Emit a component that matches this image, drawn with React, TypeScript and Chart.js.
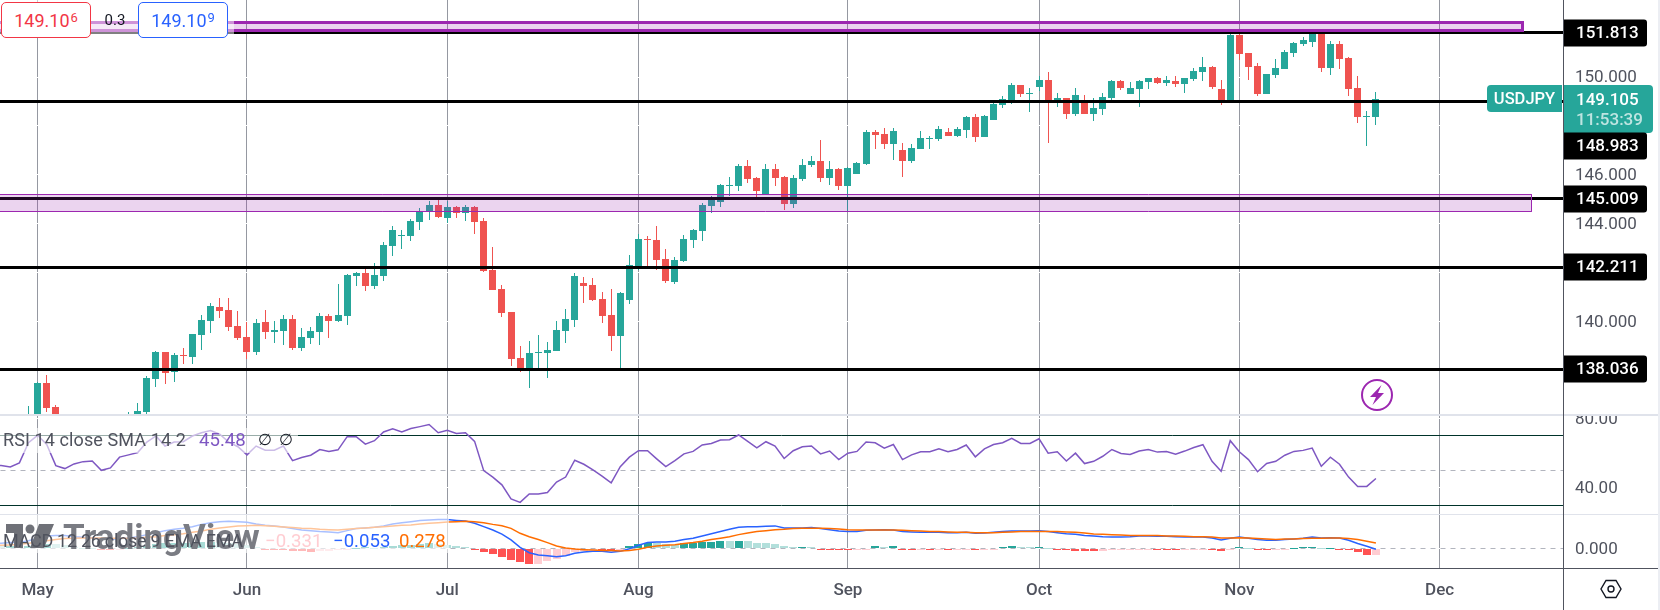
import { useEffect, useRef } from "react";
import { Chart, registerables } from "chart.js";

Chart.register(...registerables);

const UP = "#26a69a";
const DOWN = "#ef5350";
const AXIS_TEXT = "#50535e";
const FONT = "Roboto, sans-serif";

const opens = [
  133.80,134.20,134.10,133.70,133.90,136.20,137.48,136.49,135.80,134.30,
  134.80,135.10,134.50,134.90,135.60,135.70,136.10,136.30,137.64,138.74,
  137.94,138.62,138.54,139.44,140.01,140.59,140.46,139.81,139.36,138.74,
  139.97,139.56,139.60,140.09,138.91,139.32,139.56,140.22,140.01,140.22,
  141.85,141.98,141.45,141.85,143.08,143.49,143.49,144.07,144.47,144.76,
  144.23,144.68,144.43,144.68,144.11,142.10,141.32,140.38,138.50,138.06,
  138.70,138.70,138.78,139.60,140.05,141.57,141.49,140.91,140.26,139.40,
  140.87,142.26,143.37,143.33,142.55,141.61,142.47,143.33,143.70,144.72,
  144.88,145.54,145.54,146.36,145.87,145.17,146.23,145.91,144.80,145.82,
  146.40,146.56,145.87,146.23,145.54,146.03,146.44,147.75,147.67,147.26,
  147.01,146.56,147.05,147.46,147.46,147.75,147.58,147.83,148.36,147.54,
  148.24,148.85,149.06,149.67,149.30,149.59,149.88,149.06,149.14,148.49,
  149.06,148.49,148.69,149.14,149.84,149.30,149.51,149.80,149.96,149.75,
  149.84,149.71,149.92,150.20,150.41,149.51,149.06,151.72,150.98,150.45,
  149.30,150.08,150.33,150.98,151.35,151.43,151.79,150.37,151.35,150.78,
  149.55,148.36,148.36,
];
const highs = [
  134.40,134.60,134.50,134.10,136.54,137.52,137.80,136.57,135.90,135.10,
  135.50,135.40,135.20,135.70,135.80,136.30,136.65,137.77,138.78,138.76,
  138.70,138.91,139.48,140.26,140.75,140.95,140.95,140.42,139.97,140.09,
  140.46,140.01,140.26,140.26,139.73,139.77,140.34,140.30,141.53,141.94,
  142.02,142.14,142.39,143.25,143.90,143.74,144.19,144.64,144.92,144.97,
  144.92,144.72,144.76,144.70,144.23,143.04,141.49,140.40,138.99,139.19,
  139.44,139.15,140.01,140.50,141.98,141.81,141.77,141.20,141.32,141.20,
  142.71,143.57,143.49,143.90,142.96,142.63,143.53,143.78,144.84,145.13,
  145.62,145.91,146.44,146.60,145.91,146.44,146.44,145.93,145.99,146.64,
  146.77,147.42,146.56,146.28,146.32,146.52,147.83,147.83,147.91,147.91,
  147.30,147.26,147.79,147.58,147.99,147.91,147.95,148.40,148.49,148.44,
  148.94,149.22,149.75,149.69,149.55,150.04,150.20,149.35,149.16,149.55,
  149.26,149.14,149.35,149.88,149.88,149.80,149.88,149.97,150.00,150.04,
  150.04,149.97,150.37,150.82,150.45,149.88,151.76,151.74,151.00,150.57,
  150.14,150.74,151.11,151.43,151.64,151.92,151.92,151.47,151.47,150.82,
  150.04,148.61,149.39,
];
const lows = [
  133.50,133.90,133.60,133.40,133.70,135.90,136.29,135.60,134.60,134.00,
  134.70,134.40,134.00,134.80,135.20,135.20,135.90,136.20,137.32,137.43,
  137.52,138.27,138.27,138.83,139.52,140.14,139.60,139.24,138.46,138.62,
  139.28,139.11,139.03,138.83,138.78,139.07,139.03,139.32,139.97,139.85,
  141.45,141.24,141.32,141.65,142.67,142.96,143.29,143.74,144.15,144.23,
  144.02,144.23,144.11,143.57,142.03,141.28,140.18,138.17,137.93,137.27,
  138.04,137.68,138.78,139.11,139.77,140.75,140.85,139.93,138.78,138.09,
  140.71,142.10,142.24,142.10,141.57,141.53,142.43,143.00,143.29,144.43,
  144.68,145.13,145.33,145.66,145.05,145.17,145.54,144.56,144.64,145.74,
  146.32,145.70,145.58,145.37,144.47,146.03,146.40,147.05,147.05,146.60,
  145.91,146.48,147.05,147.05,147.38,147.58,147.54,147.50,147.34,147.54,
  148.24,148.73,148.90,149.18,148.57,149.43,147.30,148.77,148.28,148.40,
  148.47,148.20,148.44,148.98,149.47,149.30,148.77,149.51,149.71,149.63,
  149.59,149.35,149.84,149.84,149.51,148.85,149.06,150.70,149.88,149.22,
  149.30,149.96,150.33,150.82,151.27,151.23,150.20,150.08,150.33,149.22,
  148.12,147.18,148.04,
];
const closes = [
  134.20,134.10,133.70,133.90,136.21,137.48,136.47,135.80,134.70,134.80,
  135.10,134.50,134.90,135.60,135.70,136.10,136.33,137.69,138.74,137.90,
  138.62,138.58,139.48,140.05,140.63,140.42,139.77,139.32,138.74,139.93,
  139.56,139.64,140.09,138.91,139.36,139.60,140.22,140.01,140.26,141.90,
  141.98,141.45,141.90,143.12,143.74,143.53,144.11,144.47,144.76,144.27,
  144.68,144.43,144.68,144.07,142.06,141.28,140.34,138.46,138.09,138.70,
  138.74,138.83,139.64,140.09,141.86,141.45,140.87,140.22,139.40,141.16,
  142.30,143.37,143.33,142.51,141.65,142.51,143.37,143.74,144.76,145.01,
  145.58,145.58,146.36,145.82,145.33,146.23,145.87,144.80,145.87,146.40,
  146.56,145.87,146.23,145.54,146.28,146.48,147.75,147.63,147.26,147.79,
  146.56,147.09,147.50,147.50,147.87,147.58,147.87,148.36,147.54,148.40,
  148.90,149.10,149.67,149.30,149.35,149.88,149.06,149.14,148.49,149.26,
  148.49,148.73,149.18,149.84,149.55,149.55,149.84,149.96,149.75,149.88,
  149.71,149.96,150.25,150.41,149.59,149.06,151.72,150.94,150.41,149.30,
  150.12,150.37,151.02,151.39,151.52,151.79,150.37,151.35,150.74,149.51,
  148.36,148.40,149.105,
];

const rsiValues = [
  52.6,53,52.1,54.5,66.1,70.4,65.1,52.9,51.2,53.9,
  55.2,55.6,50.2,51.6,57.8,59.1,60.5,66.5,70,64.2,
  66.5,66.7,70,71.9,73.1,71,66.5,63.8,59.1,64.2,
  61.8,61.8,64.2,55.8,57.6,58.9,62.2,61.1,62,69.6,
  69.6,65.3,67.3,72.3,74.1,72.3,74.3,75.4,76.6,71.9,
  73.3,71.4,71.9,66.9,50,46.3,41.8,33.7,31.7,36.6,
  36.6,37.4,43.4,46.3,56,53.7,50.4,46.9,43,52.3,
  57.8,61.5,61.5,56.8,52.3,55.8,59.7,61.1,64.8,65.7,
  67.7,67.9,70.6,66.9,63.2,66.7,64.2,57,61.5,63.8,
  64.2,59.7,61.3,56.4,60.1,61.1,66.5,66.1,63,65.1,
  56.4,59.1,60.9,60.9,62.6,60.9,62.2,64.8,58,62.6,
  65.1,66.1,68.6,65.7,65.7,68.4,60.1,60.9,55.6,60.1,
  54.1,55.4,58.3,62.2,59.9,59.3,61.3,62.2,60.7,61.1,
  59.5,61.3,63.4,65,55.4,49.6,67.3,60.9,56.4,49.4,
  54.1,55.4,58.9,61.1,61.7,63,52.5,57.8,53.7,46.3,
  40.9,40.9,45.48,
];

const macdValues = [
  .26,.26,.30,.32,.40,.53,.65,.67,.67,.61,
  .58,.54,.51,.47,.51,.54,.61,.72,.82,.93,
  1.00,1.05,1.14,1.26,1.35,1.40,1.42,1.40,1.37,1.28,
  1.21,1.18,1.12,1.04,.96,.93,.88,.86,.82,.93,
  1.04,1.07,1.11,1.18,1.28,1.35,1.40,1.46,1.49,1.51,
  1.51,1.47,1.44,1.32,1.14,.96,.75,.44,.05,-.23,
  -.35,-.39,-.44,-.39,-.26,-.19,-.16,-.16,-.21,-.16,
  -.02,.16,.30,.33,.33,.37,.46,.53,.65,.77,
  .88,1.00,1.11,1.14,1.14,1.16,1.18,1.07,1.07,1.07,
  1.09,1.04,.98,.91,.88,.88,.95,.96,.98,.96,
  .89,.86,.84,.84,.84,.82,.82,.84,.79,.81,
  .84,.88,.91,.91,.91,.93,.88,.82,.77,.74,
  .67,.65,.61,.60,.60,.61,.65,.65,.63,.63,
  .61,.60,.60,.60,.54,.44,.53,.60,.53,.46,
  .42,.42,.46,.49,.53,.60,.54,.56,.54,.42,
  .25,.11,-.053,
];
const signalValues = [
  .12,.16,.18,.21,.26,.33,.40,.46,.51,.53,
  .54,.54,.54,.53,.53,.53,.54,.58,.61,.67,
  .72,.77,.84,.91,1.00,1.07,1.12,1.18,1.19,1.21,
  1.19,1.16,1.12,1.09,1.05,1.04,1.00,.98,.96,1.00,
  1.04,1.07,1.11,1.14,1.18,1.21,1.23,1.28,1.32,1.35,
  1.39,1.40,1.42,1.40,1.35,1.26,1.19,1.05,.79,.61,
  .46,.30,.12,.02,-.04,-.07,-.09,-.11,-.12,-.14,
  -.12,-.05,.05,.12,.16,.19,.25,.30,.37,.46,
  .53,.61,.72,.81,.88,.93,.98,1.00,1.04,1.05,
  1.05,1.05,1.04,1.02,.98,.96,.96,.96,.96,.96,
  .95,.93,.91,.89,.88,.86,.84,.84,.82,.82,
  .82,.84,.86,.88,.88,.89,.89,.88,.86,.84,
  .81,.75,.74,.72,.70,.68,.68,.67,.67,.65,
  .65,.63,.61,.61,.60,.54,.54,.56,.54,.51,
  .49,.47,.49,.49,.51,.53,.53,.54,.54,.51,
  .46,.37,.278,
];
const histValues = [
  .14,.10,.12,.11,.14,.20,.25,.21,.16,.08,
  .04,.01,-.03,-.06,-.02,.01,.07,.14,.21,.26,
  .28,.28,.30,.35,.35,.33,.30,.22,.18,.07,
  -.05,-.08,-.10,-.12,-.15,-.19,-.16,-.13,-.08,-.02,
  .02,.05,.04,.08,.13,.20,.20,.24,.26,.22,
  .18,.13,.05,-.08,-.21,-.30,-.44,-.61,-.74,-.84,
  -.81,-.69,-.56,-.41,-.22,-.12,-.06,-.10,-.12,-.08,
  .12,.21,.30,.28,.23,.19,.26,.30,.33,.35,
  .37,.36,.39,.37,.28,.26,.22,.12,.07,.08,
  .05,-.02,-.04,-.08,-.09,-.07,-.04,.10,.08,.10,
  -.08,-.09,-.08,-.10,-.07,-.09,-.08,-.03,-.08,-.06,
  -.02,.08,.10,.07,.06,.08,.01,-.02,-.10,-.12,
  -.14,-.16,-.13,-.11,-.10,-.08,-.07,-.05,-.07,-.08,
  -.10,-.08,-.06,-.02,-.06,-.12,-.01,.07,.03,-.06,
  -.07,-.06,-.03,.02,.05,.09,.02,.03,-.02,-.10,
  -.22,-.34,-.331,
];

// month labels and the bar each month starts on
const monthLabels = ["May", "Jun", "Jul", "Aug", "Sep", "Oct", "Nov", "Dec"];
const monthBars = [5, 28, 50, 71, 94, 115, 137, 159];

const priceTicks = [138, 140, 142, 144, 146, 148, 150];
const priceTickLabels = [140, 144, 146, 150];
const rsiTicks = [40, 80];
const macdTicks = [0];

const levels = [151.813, 148.983, 145.009, 142.211, 138.036];
const lastPrice = 149.105;
const countdown = "11:53:39";
const symbol = "USDJPY";

// [top price, bottom price, last bar, border width]
const zones = [
  [152.23, 151.9, 168.1, 3],
  [145.19, 144.495, 169.05, 1],
];

const xMin = 0.87;
const xMax = 172.55;
const barIndexes = closes.map((_, i) => i);

const alignPx = (v: number, w: number) => Math.round(v - w / 2) + w / 2;

// keeps candles and level lines on whole pixels like the original
const snapMarks = {
  id: "snapMarks",
  beforeDraw(chart: any) {
    // axis labels sit a touch lower than chart.js centres them
    chart.scales.y.getLabelItems().forEach((item: any) => {
      item.options.translation[1] += 1.2;
    });
  },
  beforeDatasetsDraw(chart: any) {
    chart.getSortedVisibleDatasetMetas().forEach((meta: any) => {
      if (meta.type === "bar") {
        meta.data.forEach((el: any) => {
          el.x = alignPx(el.x, el.width);
          el.y = Math.round(el.y);
          el.base = Math.round(el.base);
          if (el.y === el.base) el.base += 1;
        });
      } else if (meta._dataset.snap) {
        const w = meta._dataset.borderWidth;
        meta.data.forEach((pt: any) => {
          pt.x = alignPx(pt.x, w);
          pt.y = alignPx(pt.y, w);
        });
      }
    });
  },
};

const roundedRight = (ctx: any, x: number, y: number, w: number, h: number, r: number) => {
  ctx.beginPath();
  ctx.roundRect(x, y, w, h, [0, r, r, 0]);
  ctx.fill();
};

// price tags in the right hand axis
const priceTags = {
  id: "priceTags",
  afterDraw(chart: any) {
    const { ctx, scales } = chart;
    const axisX = scales.y.left;
    const lastY = scales.y.getPixelForValue(lastPrice);
    const tagTop = Math.round(lastY) - 14;
    const tagBottom = tagTop + 48;
    ctx.save();
    ctx.textBaseline = "middle";

    ctx.fillStyle = UP;
    roundedRight(ctx, axisX, tagTop, 90, 48, 4);
    ctx.beginPath();
    ctx.roundRect(axisX - 76, tagTop, 75, 27, [4, 0, 0, 4]);
    ctx.fill();
    ctx.fillStyle = "#ffffff";
    ctx.font = `500 16.5px ${FONT}`;
    ctx.textAlign = "center";
    ctx.fillText(symbol, axisX - 38.5, tagTop + 15);
    ctx.textAlign = "left";
    ctx.font = `500 17px ${FONT}`;
    ctx.fillText(lastPrice.toFixed(3), axisX + 13, tagTop + 15.5);
    ctx.fillStyle = "rgba(255,255,255,0.7)";
    ctx.fillText(countdown, axisX + 13, tagTop + 36);

    levels.forEach((level) => {
      let y = Math.round(scales.y.getPixelForValue(level));
      if (Math.abs(y - lastY) < 30) y = tagBottom + 13;
      ctx.fillStyle = "#000000";
      roundedRight(ctx, axisX, y - 13.5, 84, 27, 3);
      ctx.fillStyle = "#ffffff";
      ctx.fillText(level.toFixed(3), axisX + 13, y + 1);
    });
    ctx.restore();
  },
};

const axisFont = { family: FONT, size: 17 };

// the axis label overhang must not shrink the plot area
const noPadding = (s: any) => {
  s.paddingTop = 0;
  s.paddingBottom = 0;
  s.paddingLeft = 0;
  s.paddingRight = 0;
};

const xScale = (withLabels: boolean) => ({
  type: "linear",
  min: xMin,
  max: xMax,
  offset: false,
  grid: { color: "#9598a1", offset: false, drawTicks: false },
  border: { display: false },
  afterBuildTicks: (s: any) => {
    s.ticks = monthBars.map((value) => ({ value }));
  },
  afterFit: (s: any) => {
    s.height = withLabels ? 42 : 0;
    noPadding(s);
  },
  ticks: {
    display: withLabels,
    autoSkip: false,
    maxRotation: 0,
    minRotation: 0,
    padding: 13,
    color: AXIS_TEXT,
    font: { ...axisFont, weight: "500" },
    callback: (_: any, i: number) => monthLabels[i],
  },
});

const yScale = (min: number, max: number, ticks: number[], label: (v: number) => string) => ({
  position: "right",
  min,
  max,
  beginAtZero: false,
  grid: { color: "#ffffff", drawTicks: false },
  border: { display: false },
  afterBuildTicks: (s: any) => {
    s.ticks = ticks.map((value) => ({ value }));
  },
  afterFit: (s: any) => {
    s.width = 97;
    noPadding(s);
  },
  ticks: {
    autoSkip: false,
    padding: 12,
    color: AXIS_TEXT,
    font: axisFont,
    callback: (v: number) => label(v),
  },
});

const baseOptions = {
  responsive: false,
  animation: false,
  layout: { autoPadding: false, padding: 0 },
  plugins: { legend: { display: false }, tooltip: { enabled: false } },
  events: [],
};

const hLine = (y: number, color: string, borderWidth: number, order: number, dash: number[] = []) => ({
  type: "line",
  data: [
    { x: xMin - 1, y },
    { x: xMax + 1, y },
  ],
  borderColor: color,
  borderWidth,
  borderDash: dash,
  pointRadius: 0,
  order,
  snap: true,
});

const histColor = (h: number, i: number) => {
  const prev = i > 0 ? histValues[i - 1] : h;
  if (h >= 0) return h >= prev ? UP : "#b2dfdb";
  return h < prev ? "#ff5252" : "#ffcdd2";
};

export default function App() {
  const priceRef = useRef<HTMLCanvasElement>(null);
  const rsiRef = useRef<HTMLCanvasElement>(null);
  const macdRef = useRef<HTMLCanvasElement>(null);

  useEffect(() => {
    const candleColors = closes.map((c, i) => (c >= opens[i] ? UP : DOWN));

    const priceChart = new Chart(priceRef.current as any, {
      type: "bar",
      data: {
        datasets: [
          ...zones.map(([top, bottom, lastBar, width]) => ({
            type: "line",
            data: [
              { x: -10, y: top },
              { x: lastBar, y: top },
              { x: lastBar, y: bottom },
              { x: -10, y: bottom },
              { x: -10, y: top },
            ],
            borderColor: "#9c27b0",
            borderWidth: width,
            backgroundColor: "rgba(156,39,176,0.2)",
            fill: "shape",
            pointRadius: 0,
            borderJoinStyle: "miter",
            order: 0,
            snap: true,
          })),
          ...levels.map((level) => hLine(level, "#000000", 3, 1)),
          {
            data: barIndexes.map((x) => ({ x, y: [opens[x], closes[x]] })),
            backgroundColor: candleColors,
            barThickness: 7,
            grouped: false,
            inflateAmount: 0,
            order: 2,
          },
          {
            data: barIndexes.map((x) => ({ x, y: [lows[x], highs[x]] })),
            backgroundColor: candleColors,
            barThickness: 1,
            grouped: false,
            inflateAmount: 0,
            order: 3,
          },
        ],
      },
      options: {
        ...baseOptions,
        scales: {
          x: xScale(false),
          y: yScale(136.207, 153.152, priceTicks, (v) =>
            priceTickLabels.includes(v) ? v.toFixed(3) : ""
          ),
        },
      },
      plugins: [snapMarks, priceTags],
    } as any);

    const rsiChart = new Chart(rsiRef.current as any, {
      type: "line",
      data: {
        datasets: [
          {
            data: barIndexes.map((x) => ({ x, y: rsiValues[x] })),
            borderColor: "#7e57c2",
            borderWidth: 1.5,
            pointRadius: 0,
            tension: 0,
            order: 0,
          },
          hLine(70, "#00332a", 1, 1),
          hLine(30, "#00332a", 1, 1),
          hLine(50, "#b2b5be", 1, 2, [5, 5]),
        ],
      },
      options: {
        ...baseOptions,
        scales: {
          x: xScale(false),
          y: yScale(24.99, 81.54, rsiTicks, (v) => v.toFixed(2)),
        },
      },
      plugins: [snapMarks],
    } as any);

    const macdChart = new Chart(macdRef.current as any, {
      type: "bar",
      data: {
        datasets: [
          {
            type: "line",
            data: barIndexes.map((x) => ({ x, y: signalValues[x] })),
            borderColor: "#ff6d00",
            borderWidth: 1.5,
            pointRadius: 0,
            order: 0,
          },
          {
            type: "line",
            data: barIndexes.map((x) => ({ x, y: macdValues[x] })),
            borderColor: "#2962ff",
            borderWidth: 1.5,
            pointRadius: 0,
            order: 1,
          },
          {
            data: barIndexes.map((x) => ({ x, y: histValues[x] })),
            backgroundColor: histValues.map(histColor),
            barThickness: 8,
            grouped: false,
            inflateAmount: 0,
            order: 2,
          },
          hLine(0, "#b2b5be", 1, 3, [5, 5]),
        ],
      },
      options: {
        ...baseOptions,
        scales: {
          x: xScale(true),
          y: yScale(-1.036, 1.753, macdTicks, (v) => v.toFixed(3)),
        },
      },
      plugins: [snapMarks],
    } as any);

    return () => {
      priceChart.destroy();
      rsiChart.destroy();
      macdChart.destroy();
    };
  }, []);

  const abs = (left: number, top: number, extra: any = {}) => ({
    position: "absolute" as const,
    left,
    top,
    ...extra,
  });
  const legend = (left: number, top: number, color: string, fontSize = 18.6, extra: any = {}) =>
    abs(left, top, { color, fontSize, lineHeight: "20px", whiteSpace: "pre", ...extra });

  return (
    <div
      style={{
        position: "fixed",
        left: 0,
        top: 0,
        width: 1660,
        height: 610,
        background: "#ffffff",
        overflow: "hidden",
        fontFamily: FONT,
      }}
    >
      <canvas ref={priceRef} width={1660} height={414} style={abs(0, 0, { display: "block" })} />
      <canvas ref={rsiRef} width={1660} height={98} style={abs(0, 416, { display: "block" })} />
      <canvas ref={macdRef} width={1660} height={95} style={abs(0, 515, { display: "block" })} />

      {/* pane borders */}
      <div style={abs(0, 413.5, { width: 1660, height: 2, background: "#e0e3eb" })} />
      <div style={abs(0, 514, { width: 1660, height: 1, background: "#e0e3eb" })} />
      <div style={abs(0, 568, { width: 1660, height: 1, background: AXIS_TEXT })} />
      <div style={abs(1563, 0, { width: 1, height: 610, background: AXIS_TEXT })} />
      <div style={abs(1658, 0, { width: 2, height: 610, background: "#eceef3" })} />

      {/* legend backdrops */}
      <div style={abs(0, 0, { width: 234, height: 38, background: "rgba(255,255,255,0.5)" })} />
      <div style={abs(0, 428, { width: 298, height: 25, background: "rgba(255,255,255,0.6)" })} />
      <div style={abs(0, 515, { width: 449, height: 38, background: "rgba(255,255,255,0.6)" })} />

      {/* watermark */}
      <svg width="48" height="24" viewBox="0 0 48 24" style={abs(6, 524)}>
        <path d="M0 0H17V24H8V9H0Z M33 0H48L38 24H24Z" fill="#6f7178" />
        <circle cx="24" cy="5" r="4.5" fill="#6f7178" />
      </svg>
      <div
        style={abs(63, 518, {
          color: "#7a7c83",
          fontSize: 35,
          fontWeight: 700,
          lineHeight: "40px",
          whiteSpace: "pre",
        })}
      >
        TradingView
      </div>

      {/* buy and sell boxes */}
      {[
        { left: 1, color: "#f23645", text: "149.10", sup: "6" },
        { left: 138, color: "#2962ff", text: "149.10", sup: "9" },
      ].map((box) => (
        <div
          key={box.left}
          style={abs(box.left, 2, {
            width: 88,
            height: 34,
            border: `1px solid ${box.color}`,
            borderRadius: 5,
            background: "#ffffff",
            color: box.color,
            fontSize: 18,
            lineHeight: "36px",
            textAlign: "center",
          })}
        >
          {box.text}
          <span style={{ fontSize: 13, verticalAlign: 5, lineHeight: "10px", marginLeft: 1 }}>{box.sup}</span>
        </div>
      ))}
      <div style={abs(103, 10, { width: 24, textAlign: "center", color: "#131722", fontSize: 15, lineHeight: "20px" })}>0.3</div>

      {/* indicator legends */}
      <div style={legend(3, 430, AXIS_TEXT, 18, { letterSpacing: 0.1 })}>RSI 14 close SMA 14 2</div>
      <div style={legend(199, 430, "#7e57c2")}>45.48</div>
      <div style={legend(258, 430, "#131722", 16)}>∅</div>
      <div style={legend(279, 430, "#131722", 16)}>∅</div>

      <div style={legend(3, 531, AXIS_TEXT, 18, { letterSpacing: -0.28 })}>MACD 12 26 close 9 EMA EMA</div>
      <div style={legend(265, 531, "#ffcdd2")}>−0.331</div>
      <div style={legend(333, 531, "#2962ff")}>−0.053</div>
      <div style={legend(399, 531, "#ff6d00")}>0.278</div>

      {/* lightning badge */}
      <svg width="34" height="34" viewBox="0 0 34 34" style={abs(1360, 378)}>
        <circle cx="17" cy="17" r="15" fill="#ffffff" stroke="#9c27b0" strokeWidth="2" />
        <path d="M21.5 7 L10 19 H16 L12.5 27 L24 15 H18 Z" fill="#9c27b0" />
      </svg>

      {/* settings icon */}
      <svg width="24" height="24" viewBox="0 0 24 24" style={abs(1599, 577)}>
        <path d="M7 3.5H17L22 12L17 20.5H7L2 12Z" fill="none" stroke="#131722" strokeWidth="1.4" />
        <circle cx="12" cy="12" r="3" fill="none" stroke="#131722" strokeWidth="1.4" />
      </svg>
    </div>
  );
}
